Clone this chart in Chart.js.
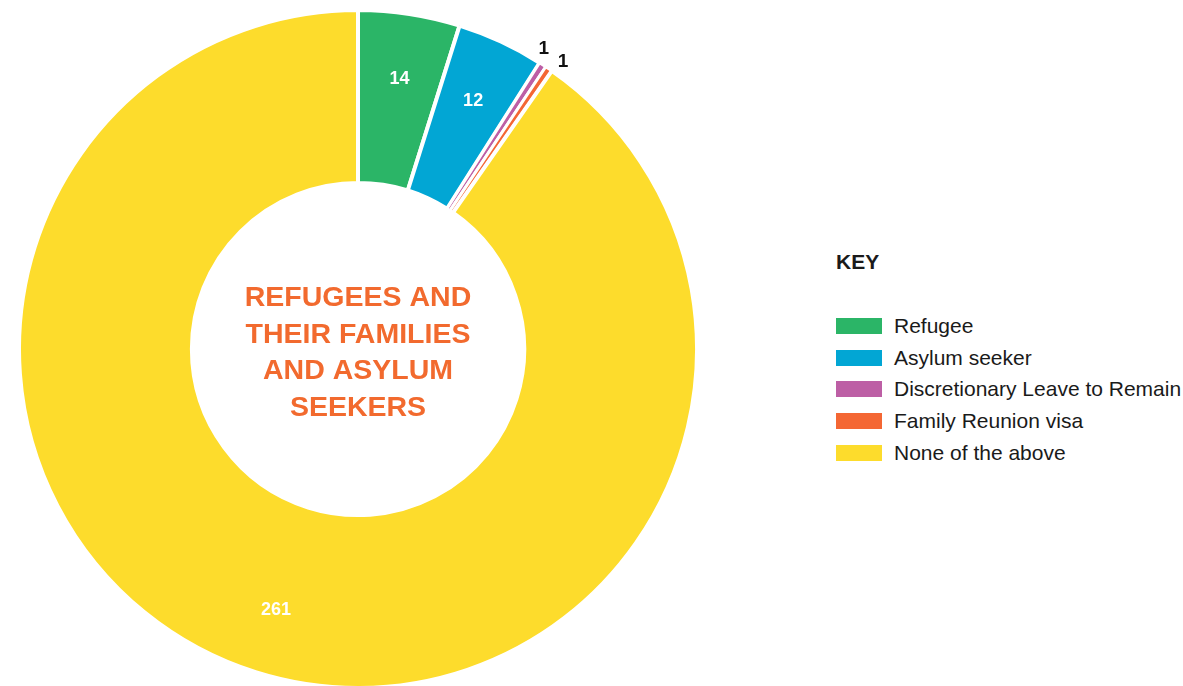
<!DOCTYPE html>
<html lang="en">
<head>
  <meta charset="UTF-8">
  <title>Refugees and their families and asylum seekers</title>
  <script src="https://cdn.jsdelivr.net/npm/chart.js"></script>
</head>
<style>
  body {
    margin: 0;
    background: #ffffff;
    font-family: "Liberation Sans", Arial, sans-serif;
  }

  .wrap {
    position: relative;
    width: 1183px;
    height: 686px;
    overflow: hidden;
  }

  .chart-box {
    position: absolute;
    left: 17px;
    top: 8px;
    width: 682px;
    height: 682px;
  }

  .key {
    position: absolute;
    left: 836px;
    top: 249px;
    color: #1a1a1a;
  }

  .key h3 {
    margin: 0 0 35px 0;
    font-size: 21px;
    line-height: 26px;
    font-weight: bold;
  }

  .key-item {
    display: flex;
    align-items: center;
    height: 31.75px;
    font-size: 21px;
    white-space: nowrap;
  }

  .key-item span.box {
    display: inline-block;
    width: 46px;
    height: 16px;
    margin-right: 12px;
  }
</style>
<body>

<div class="wrap">
  <div class="chart-box">
    <canvas id="statusChart"></canvas>
  </div>
  <div class="key" id="key">
    <h3>KEY</h3>
  </div>
</div>

<script>
  // values
  const categories = ['Refugee', 'Asylum seeker', 'Discretionary Leave to Remain', 'Family Reunion visa', 'None of the above'];
  const counts = [14, 12, 1, 1, 261];
  const colours = ['#2bb567', '#02a6d4', '#bd5fa5', '#f46734', '#fddc2c'];
  const centreLines = ['REFUGEES AND', 'THEIR FAMILIES', 'AND ASYLUM', 'SEEKERS'];

  // build the key
  const key = document.getElementById('key');
  categories.forEach((name, i) => {
    const row = document.createElement('div');
    row.className = 'key-item';
    row.innerHTML = `<span class="box" style="background:${colours[i]}"></span>${name}`;
    key.appendChild(row);
  });

  const total = counts.reduce((a, b) => a + b, 0);

  // slice labels: inside for big slices, outside (black) for tiny ones
  const sliceLabels = {
    id: 'sliceLabels',
    afterDatasetsDraw(chart) {
      const ctx = chart.ctx;
      const arcs = chart.getDatasetMeta(0).data;
      let smallCount = 0;
      ctx.save();
      ctx.textBaseline = 'middle';
      ctx.textAlign = 'center';
      arcs.forEach((arc, i) => {
        const p = arc.getProps(['x', 'y', 'startAngle', 'endAngle', 'innerRadius', 'outerRadius'], true);
        let mid = (p.startAngle + p.endAngle) / 2;
        const small = counts[i] / total < 0.02;
        let r;
        if (small) {
          // spread neighbouring tiny-slice labels apart a little
          mid += (smallCount % 2 === 0 ? -1 : 1) * 0.022;
          smallCount++;
          r = p.outerRadius + 14;
          ctx.font = 'bold 19px "Liberation Sans", Arial, sans-serif';
          ctx.fillStyle = '#111111';
        } else {
          r = p.innerRadius + (p.outerRadius - p.innerRadius) * 0.62;
          ctx.font = 'bold 18px "Liberation Sans", Arial, sans-serif';
          ctx.fillStyle = '#ffffff';
        }
        ctx.fillText(String(counts[i]), p.x + Math.cos(mid) * r, p.y + Math.sin(mid) * r);
      });
      ctx.restore();
    }
  };

  // title in the hole of the doughnut
  const centreText = {
    id: 'centreText',
    afterDraw(chart) {
      const arc = chart.getDatasetMeta(0).data[0];
      if (!arc) return;
      const ctx = chart.ctx;
      const lineH = 36.7;
      ctx.save();
      ctx.font = 'bold 28.5px "Liberation Sans", Arial, sans-serif';
      ctx.fillStyle = '#f26a2e';
      ctx.textAlign = 'center';
      ctx.textBaseline = 'middle';
      const y0 = arc.y + 4 - lineH * (centreLines.length - 1) / 2;
      centreLines.forEach((line, i) => {
        ctx.fillText(line, arc.x, y0 + i * lineH);
      });
      ctx.restore();
    }
  };

  const statusCtx = document.getElementById('statusChart').getContext('2d');
  const statusChart = new Chart(statusCtx, {
    type: 'doughnut',
    data: {
      labels: categories,
      datasets: [{
        data: counts,
        backgroundColor: colours,
        borderColor: '#ffffff',
        borderWidth: [4, 4, 3, 3, 4]
      }]
    },
    options: {
      responsive: true,
      maintainAspectRatio: false,
      animation: false,
      cutout: '49%',
      layout: { padding: 0 },
      plugins: {
        legend: { display: false },
        tooltip: { enabled: false }
      }
    },
    plugins: [sliceLabels, centreText]
  });
</script>
</body>
</html>
